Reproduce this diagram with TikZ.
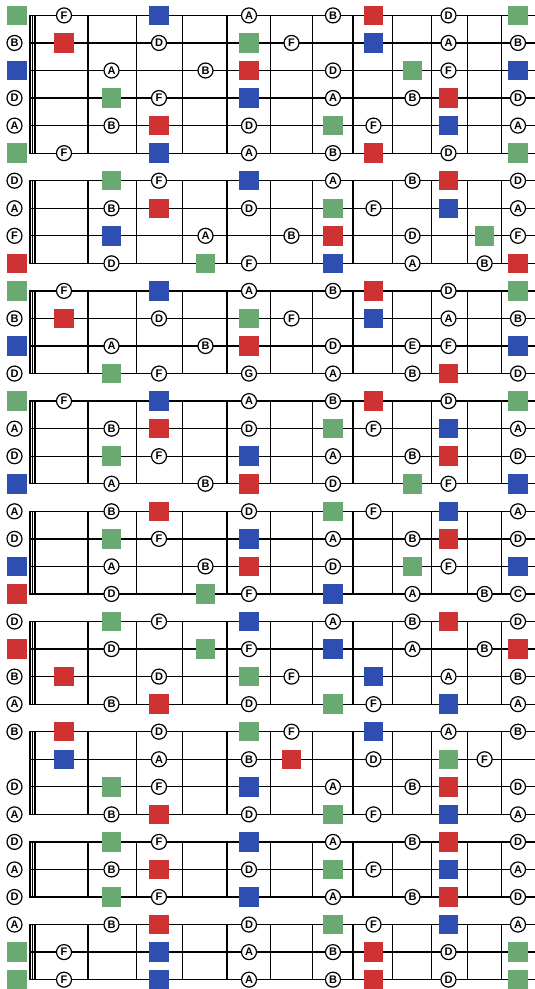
\documentclass[tikz,border=0pt]{standalone}
\usepackage{fontspec}
\setmainfont{Liberation Sans}
\definecolor{mgreen}{RGB}{106,170,114}
\definecolor{mblue}{RGB}{46,78,178}
\definecolor{mred}{RGB}{206,50,50}
\def\notesh{0pt}
\tikzset{
  stringline/.style={line width=1.3pt, black},
  fretline/.style={line width=1.5pt, black},
  nutline/.style={line width=1.6pt, black},
  note/.style={circle, draw=black, fill=white, line width=1.2pt, minimum size=15pt, inner sep=0pt, xshift=\notesh, font=\bfseries\fontsize{11}{11}\selectfont},
  sq/.style={rectangle, minimum size=19.5pt, inner sep=0pt, draw=none},
  it g/.style={sq, fill=mgreen, node contents={}},
  it b/.style={sq, fill=mblue, node contents={}},
  it r/.style={sq, fill=mred, node contents={}},
  it A/.style={note, node contents=A},
  it B/.style={note, node contents=B},
  it C/.style={note, node contents=C},
  it D/.style={note, node contents=D},
  it E/.style={note, node contents=E},
  it F/.style={note, node contents=F},
  it G/.style={note, node contents=G},
}
\newcommand\fbsec[2]{%
  \pgfmathsetmacro\ya{15.4+27.55*#1}%
  \pgfmathsetmacro\yb{15.4+27.55*#2}%
  \foreach \k in {#1,...,#2}{%
    \pgfmathsetmacro\yk{15.4+27.55*\k}%
    \draw[stringline] (29,\yk) -- (535,\yk);%
  }%
  \foreach \xf in {88,136.5,182.6,227,270.6,312.3,353.2,392.5,431.7,467.6,501.7}{%
    \draw[fretline] (\xf,\ya) -- (\xf,\yb);%
  }%
  \foreach \xn in {29.8,32.4,35.0}{%
    \draw[nutline] (\xn,\ya) -- (\xn,\yb);%
  }%
}
\newcommand\fbrow[2]{%
  \pgfmathsetmacro\yy{15.4+27.55*#1}%
  \foreach \f/\t in {#2}{%
    \pgfmathsetmacro\xx{{17,64,111.5,159,205.5,249,291.5,333,373.5,412.5,448.5,484.6,518}[\f]}%
    \ifnum\f=0 \def\notesh{-2.5pt}\else\def\notesh{0pt}\fi
    \node (m-#1-\f) at (\xx,\yy) [it \t];%
  }%
}
\begin{document}
\begin{tikzpicture}[x=1pt,y=-1pt]
\useasboundingbox (0,0) rectangle (535,989);
\fill[white] (0,0) rectangle (535,989);
% sections
\fbsec{0}{5}
\fbsec{6}{9}
\fbsec{10}{13}
\fbsec{14}{17}
\fbsec{18}{21}
\fbsec{22}{25}
\fbsec{26}{29}
\fbsec{30}{32}
\fbsec{33}{35}
% section 1
\fbrow{0}{0/g,1/F,3/b,5/A,7/B,8/r,10/D,12/g}
\fbrow{1}{0/B,1/r,3/D,5/g,6/F,8/b,10/A,12/B}
\fbrow{2}{0/b,2/A,4/B,5/r,7/D,9/g,10/F,12/b}
\fbrow{3}{0/D,2/g,3/F,5/b,7/A,9/B,10/r,12/D}
\fbrow{4}{0/A,2/B,3/r,5/D,7/g,8/F,10/b,12/A}
\fbrow{5}{0/g,1/F,3/b,5/A,7/B,8/r,10/D,12/g}
% section 2
\fbrow{6}{0/D,2/g,3/F,5/b,7/A,9/B,10/r,12/D}
\fbrow{7}{0/A,2/B,3/r,5/D,7/g,8/F,10/b,12/A}
\fbrow{8}{0/F,2/b,4/A,6/B,7/r,9/D,11/g,12/F}
\fbrow{9}{0/r,2/D,4/g,5/F,7/b,9/A,11/B,12/r}
% section 3
\fbrow{10}{0/g,1/F,3/b,5/A,7/B,8/r,10/D,12/g}
\fbrow{11}{0/B,1/r,3/D,5/g,6/F,8/b,10/A,12/B}
\fbrow{12}{0/b,2/A,4/B,5/r,7/D,9/E,10/F,12/b}
\fbrow{13}{0/D,2/g,3/F,5/G,7/A,9/B,10/r,12/D}
% section 4
\fbrow{14}{0/g,1/F,3/b,5/A,7/B,8/r,10/D,12/g}
\fbrow{15}{0/A,2/B,3/r,5/D,7/g,8/F,10/b,12/A}
\fbrow{16}{0/D,2/g,3/F,5/b,7/A,9/B,10/r,12/D}
\fbrow{17}{0/b,2/A,4/B,5/r,7/D,9/g,10/F,12/b}
% section 5
\fbrow{18}{0/A,2/B,3/r,5/D,7/g,8/F,10/b,12/A}
\fbrow{19}{0/D,2/g,3/F,5/b,7/A,9/B,10/r,12/D}
\fbrow{20}{0/b,2/A,4/B,5/r,7/D,9/g,10/F,12/b}
\fbrow{21}{0/r,2/D,4/g,5/F,7/b,9/A,11/B,12/C}
% section 6
\fbrow{22}{0/D,2/g,3/F,5/b,7/A,9/B,10/r,12/D}
\fbrow{23}{0/r,2/D,4/g,5/F,7/b,9/A,11/B,12/r}
\fbrow{24}{0/B,1/r,3/D,5/g,6/F,8/b,10/A,12/B}
\fbrow{25}{0/A,2/B,3/r,5/D,7/g,8/F,10/b,12/A}
% section 7
\fbrow{26}{0/B,1/r,3/D,5/g,6/F,8/b,10/A,12/B}
\fbrow{27}{1/b,3/A,5/B,6/r,8/D,10/g,11/F}
\fbrow{28}{0/D,2/g,3/F,5/b,7/A,9/B,10/r,12/D}
\fbrow{29}{0/A,2/B,3/r,5/D,7/g,8/F,10/b,12/A}
% section 8
\fbrow{30}{0/D,2/g,3/F,5/b,7/A,9/B,10/r,12/D}
\fbrow{31}{0/A,2/B,3/r,5/D,7/g,8/F,10/b,12/A}
\fbrow{32}{0/D,2/g,3/F,5/b,7/A,9/B,10/r,12/D}
% section 9
\fbrow{33}{0/A,2/B,3/r,5/D,7/g,8/F,10/b,12/A}
\fbrow{34}{0/g,1/F,3/b,5/A,7/B,8/r,10/D,12/g}
\fbrow{35}{0/g,1/F,3/b,5/A,7/B,8/r,10/D,12/g}
\end{tikzpicture}
\end{document}
